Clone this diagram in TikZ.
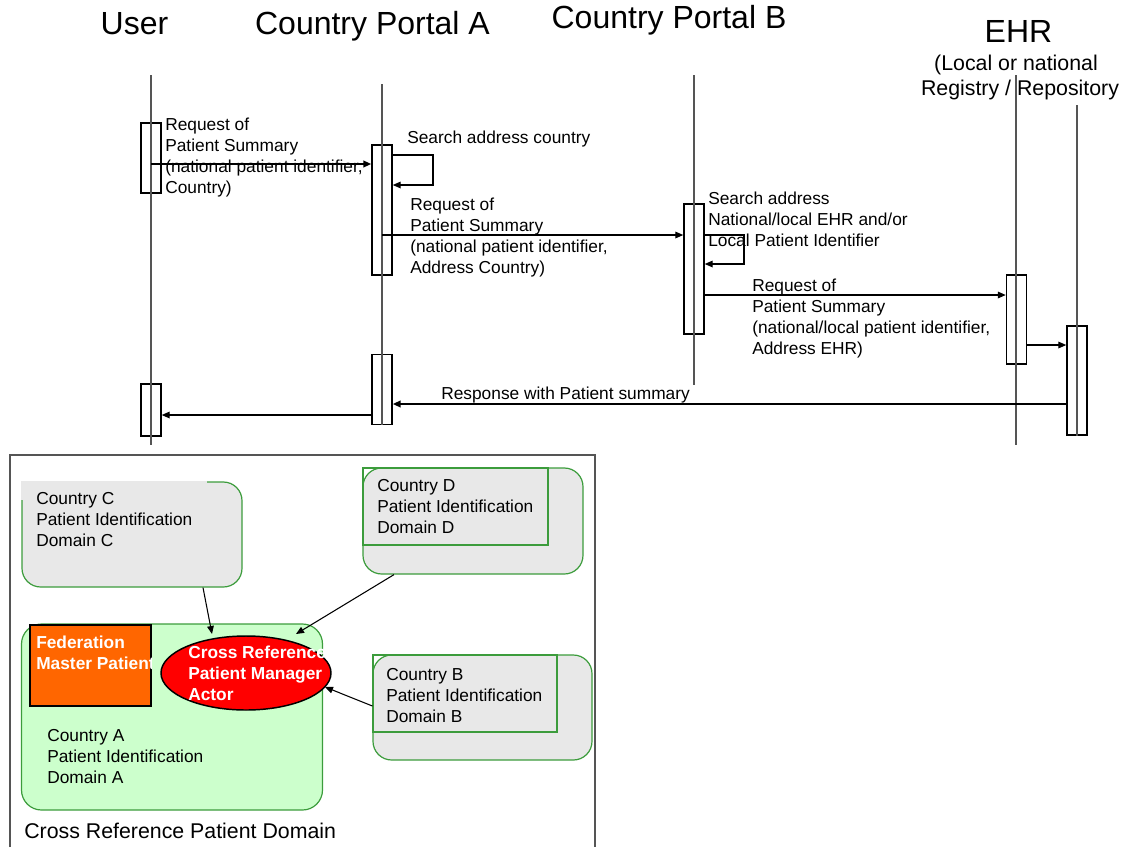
\documentclass[tikz,border=0pt]{standalone}
\usepackage{fontspec}
\setmainfont{Liberation Sans}
\usetikzlibrary{arrows.meta,shapes.geometric}
\definecolor{gborder}{HTML}{3C9C3C}
\definecolor{gfill}{HTML}{E8E8E8}
\definecolor{lgreen}{HTML}{CCFFCC}
\definecolor{orng}{HTML}{FF6600}
\definecolor{lifegray}{HTML}{555555}
\definecolor{framegray}{HTML}{555555}
\begin{document}
\begin{tikzpicture}[x=0.75pt,y=-0.75pt,
  font=\fontsize{13}{15.75}\selectfont,
  head/.style={font=\fontsize{24}{28}\selectfont, anchor=base, inner sep=0},
  subhead/.style={font=\fontsize{16}{19}\selectfont, anchor=base, inner sep=0},
  act/.style={draw=black, line width=1.1pt, minimum width=15pt, inner sep=0},
  life/.style={draw=lifegray, line width=0.8pt},
  msg/.style={-{Triangle[length=6pt,width=5pt]}, line width=0.9pt},
  thickmsg/.style={-{Triangle[length=6pt,width=5pt]}, line width=1.4pt},
  lbl/.style={anchor=north west, inner sep=0, align=left},
  dom/.style={draw=gborder, fill=gfill, line width=0.9pt, rounded corners=14pt},
  inbox/.style={draw=gborder, line width=0.9pt},
  link/.style={-{Triangle[length=6pt,width=5pt]}, line width=0.8pt},
  wlbl/.style={anchor=north west, inner sep=0, align=left, text=white, font=\fontsize{13}{15.75}\selectfont\bfseries}
]
\useasboundingbox (0,0) rectangle (1124,847);

% ---------- headings ----------
\node[head] (hU) at (134.5,34) {User};
\node[head] (hA) at (372.5,34) {Country Portal A};
\node[head] (hB) at (669,28) {Country Portal B};
\node[head] (hE) at (1018.5,42) {EHR};
\node[subhead] (hE1) at (1016,70) {(Local or national};
\node[subhead] (hE2) at (1020,95) {Registry / Repository};

% ---------- activation boxes ----------
\node[act, minimum height=52.5pt] (u1) at (151,158) {};
\node[act, minimum height=39pt] (u2) at (151,410) {};
\node[act, minimum height=97.5pt] (a1) at (382,210) {};
\node[act, minimum height=52.5pt] (a2) at (382,389.5) {};
\node[act, minimum height=97.5pt] (b1) at (694,269) {};
\node[act, minimum height=66.75pt] (e1) at (1016.5,319.5) {};
\node[act, minimum height=81.75pt] (r1) at (1077,380.5) {};

% ---------- lifelines ----------
\draw[life] (151,75) -- (151,445);
\draw[life] (382,84) -- (a2.south);
\draw[life] (694,75) -- (694,385);
\draw[life] (1016,75) -- (1016,445);
\draw[life] (1077,105) -- (r1.south);

% ---------- message levels ----------
\coordinate (m1) at (0,164);
\coordinate (s1a) at (0,155);
\coordinate (s1b) at (0,185);
\coordinate (m3) at (0,235);
\coordinate (s2a) at (0,235);
\coordinate (s2b) at (0,264);
\coordinate (m5) at (0,295);
\coordinate (m6) at (0,345);
\coordinate (m7) at (0,404);
\coordinate (m8) at (0,415);
\coordinate (loopA) at (433,0);
\coordinate (loopB) at (744,0);

% ---------- messages ----------
\draw[thickmsg] (u1.center |- m1) -- (a1.west |- m1);
\draw[msg] (a1.east |- s1a) -- (loopA |- s1a) -- (loopA |- s1b) -- (a1.east |- s1b);
\draw[msg] (a1.center |- m3) -- (b1.west |- m3);
\draw[msg] (b1.east |- s2a) -- (loopB |- s2a) -- (loopB |- s2b) -- (b1.east |- s2b);
\draw[msg] (b1.east |- m5) -- (e1.west |- m5);
\draw[msg] (e1.east |- m6) -- (r1.west |- m6);
\draw[thickmsg] (r1.west |- m7) -- (a2.east |- m7);
\draw[msg] (a2.west |- m8) -- (u2.east |- m8);

% ---------- message labels ----------
\node[lbl] (l1) at (165,118) {Request of\\Patient Summary\\(national patient identifier,\\Country)};
\node[lbl] (l2) at (407,131) {Search address country};
\node[lbl] (l3) at (410,198) {Request of\\Patient Summary\\(national patient identifier,\\Address Country)};
\node[lbl] (l4) at (708,192) {Search address\\National/local EHR and/or\\Local Patient Identifier};
\node[lbl] (l5) at (752,279) {Request of\\Patient Summary\\(national/local patient identifier,\\Address EHR)};
\node[anchor=base west, inner sep=0] (l7) at (441,399) {Response with Patient summary};

% ---------- lower frame ----------
\draw[framegray, line width=1pt] (10,847) -- (10,455) -- (595,455) -- (595,847);

% Country C
\node[dom, minimum width=165pt, minimum height=78.75pt] (dC) at (132,534.5) {};
\fill[gfill] (21.3,481.3) rectangle (207,500);
\node[lbl] (tC) at (36,492) {Country C\\Patient Identification\\Domain C};

% Country D
\node[dom, minimum width=165pt, minimum height=79.5pt] (dD) at (473,521) {};
\draw[inbox] (363,468) rectangle (548,545);
\node[lbl] (tD) at (377,479) {Country D\\Patient Identification\\Domain D};

% Country A
\node[draw=gborder, fill=lgreen, line width=0.9pt, rounded corners=15pt,
      minimum width=225.75pt, minimum height=139.5pt] (dA) at (322.5-150.5,717) {};
\node[lbl] (tA) at (47,729) {Country A\\Patient Identification\\Domain A};

% Federation Master Patient
\node[draw=black, fill=orng, line width=1.1pt, minimum width=90.75pt, minimum height=60.75pt, inner sep=0] (fed) at (90.5,665.5) {};
\begin{scope}
\clip (30,625) rectangle (151,706);
\node[wlbl] (tF) at (36,636) {Federation\\Master Patient};
\end{scope}

% Cross Reference Patient Manager Actor
\node[ellipse, draw=black, fill=red, line width=1.1pt, minimum width=127.5pt, minimum height=55.5pt, inner sep=0] (xr) at (246,673) {};
\begin{scope}
\clip (150,630) rectangle (327,715);
\node[wlbl] (tX) at (188,646) {Cross Reference\\Patient Manager\\Actor};
\end{scope}

% Country B
\node[dom, minimum width=164.25pt, minimum height=78.75pt] (dB) at (482.5,707.5) {};
\draw[inbox] (373,655) rectangle (557,732);
\node[lbl] (tB) at (386,668) {Country B\\Patient Identification\\Domain B};

% links
\coordinate (cC) at (203,0);
\coordinate (cD) at (394,0);
\coordinate (cB) at (0,706);
\draw[link] (cC |- dC.south) -- (212,634);
\draw[link] (cD |- dD.south) -- (296,634);
\draw[link] (dB.west |- cB) -- (325,687);

\node[anchor=base west, inner sep=0, font=\fontsize{16}{19}\selectfont] (tDom) at (24,838) {Cross Reference Patient Domain};
\end{tikzpicture}
\end{document}
